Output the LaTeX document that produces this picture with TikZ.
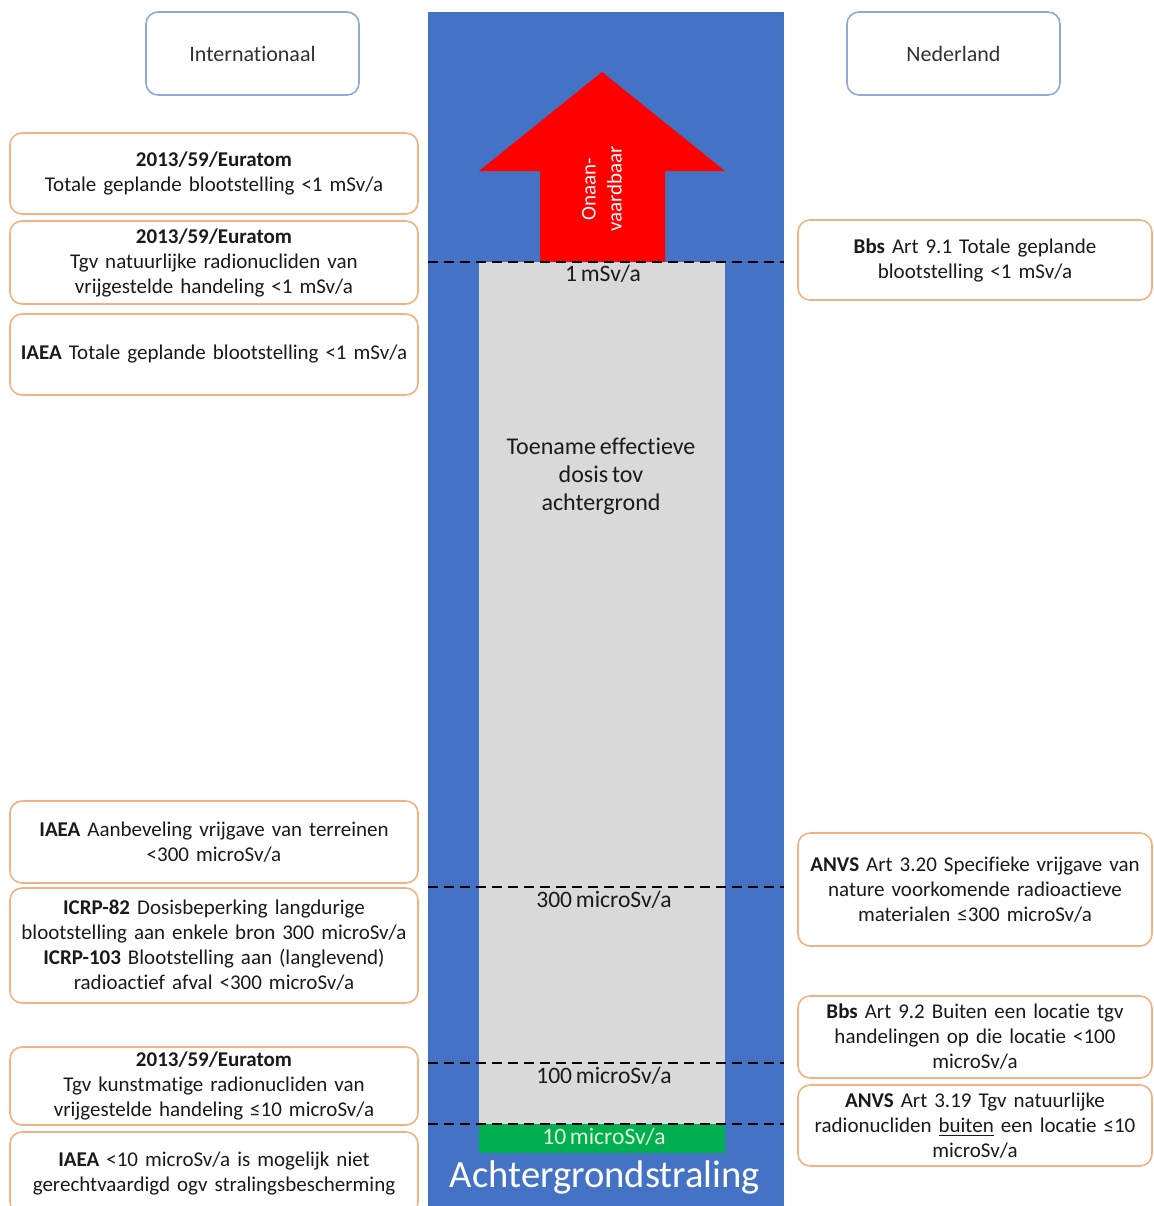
\documentclass[tikz,border=0pt]{standalone}
\usepackage{fontspec}
\setmainfont{Carlito}[Ligatures=NoCommon, WordSpace=0.7]
\definecolor{colblue}{HTML}{4472C4}
\definecolor{colorange}{HTML}{F4B183}
\definecolor{colhead}{HTML}{8EA9DB}
\definecolor{colgray}{HTML}{D9D9D9}
\definecolor{colgreen}{HTML}{00B050}
\definecolor{colpale}{HTML}{E2F0D9}
\definecolor{coltext}{HTML}{1A1A1A}

\tikzset{
  regbox/.style={draw=colorange, line width=0.8pt, fill=white, rounded corners=6pt,
    align=center, inner sep=2pt, text=coltext, font=\fontsize{10.5}{12.5}\selectfont},
  leftbox/.style={regbox, minimum width=204pt, text width=198pt},
  rightbox/.style={regbox, minimum width=177pt, text width=172pt},
  headbox/.style={draw=colhead, line width=0.8pt, fill=white, rounded corners=6pt,
    minimum width=106.5pt, minimum height=41.5pt, text=coltext!90,
    font=\fontsize{11}{13}\selectfont},
  level/.style={text=coltext, font=\fontsize{11.8}{13}\selectfont},
  levelline/.style={dash pattern=on 5pt off 3pt, line width=1.3pt}
}

\begin{document}
\begin{tikzpicture}[x=0.5pt, y=-0.5pt]
\useasboundingbox (0,0) rectangle (1154,1206);

% Column
\fill[colblue] (428,12) rectangle (784,1210);
\fill[colgray] (479,262) rectangle (725,1124);
\fill[colgreen] (479,1124) rectangle (725,1153);

% Arrow
\fill[red] (540,262) -- (540,171) -- (479,171) -- (602,72) -- (725,171)
  -- (665,171) -- (665,262) -- cycle;
\node[rotate=90, align=center, text=white, font=\fontsize{10.5}{13}\selectfont]
  (unacc) at (602,189) {Onaan-\\vaardbaar};

% Levels
\foreach \lev in {262,887,1063,1124}
  \draw[levelline] (428,\lev) -- (784,\lev);
\node[level] (lev1) at (603,274) {1 mSv/a};
\node[level] (lev300) at (604,900) {300 microSv/a};
\node[level] (lev100) at (604,1076) {100 microSv/a};
\node[level, text=colpale] (lev10) at (604,1137) {10 microSv/a};
\node[align=center, text=coltext, font=\fontsize{12}{14}\selectfont]
  (incr) at (601,476) {Toename effectieve\\dosis tov\\achtergrond};
\node[text=white, font=\fontsize{19.3}{22}\selectfont] (bg) at (605,1177) {Achtergrondstraling};

% Headers
\node[headbox] (intl) at (252.5,53.5) {Internationaal};
\node[headbox] (nl) at (953.5,53.5) {Nederland};

% International
\node[leftbox, minimum height=40.5pt] (eur1) at (214,173.5)
  {\textbf{2013/59/Euratom}\\Totale geplande blootstelling <1 mSv/a};
\node[leftbox, minimum height=41.5pt] (eur2) at (214,262.5)
  {\textbf{2013/59/Euratom}\\Tgv natuurlijke radionucliden van\\vrijgestelde handeling <1 mSv/a};
\node[leftbox, minimum height=40.5pt] (iaea1) at (214,354.5)
  {\textbf{IAEA} Totale geplande blootstelling <1 mSv/a};
\node[leftbox, minimum height=41pt] (iaea2) at (214,842)
  {\textbf{IAEA} Aanbeveling vrijgave van terreinen\\<300 microSv/a};
\node[leftbox, minimum height=57.5pt] (icrp) at (214,945.5)
  {\textbf{ICRP-82} Dosisbeperking langdurige\\blootstelling aan enkele bron 300 microSv/a\\
   \textbf{ICRP-103} Blootstelling aan (langlevend)\\radioactief afval <300 microSv/a};
\node[leftbox, minimum height=39pt] (eur3) at (214,1086)
  {\textbf{2013/59/Euratom}\\Tgv kunstmatige radionucliden van\\vrijgestelde handeling ≤10 microSv/a};
\node[leftbox, minimum height=41pt] (iaea3) at (214,1173)
  {\textbf{IAEA} <10 microSv/a is mogelijk niet\\gerechtvaardigd ogv stralingsbescherming};

% Nederland
\node[rightbox, minimum height=40pt] (bbs1) at (975,260)
  {\textbf{Bbs} Art 9.1 Totale geplande\\blootstelling <1 mSv/a};
\node[rightbox, minimum height=56.5pt] (anvs1) at (975,889.5)
  {\textbf{ANVS} Art 3.20 Specifieke vrijgave van\\nature voorkomende radioactieve\\materialen ≤300 microSv/a};
\node[rightbox, minimum height=41pt] (bbs2) at (975,1037)
  {\textbf{Bbs} Art 9.2 Buiten een locatie tgv\\handelingen op die locatie <100\\microSv/a};
\node[rightbox, minimum height=40.5pt] (anvs2) at (975,1125.5)
  {\textbf{ANVS} Art 3.19 Tgv natuurlijke\\radionucliden \underline{buiten} een locatie ≤10\\microSv/a};

\end{tikzpicture}
\end{document}
